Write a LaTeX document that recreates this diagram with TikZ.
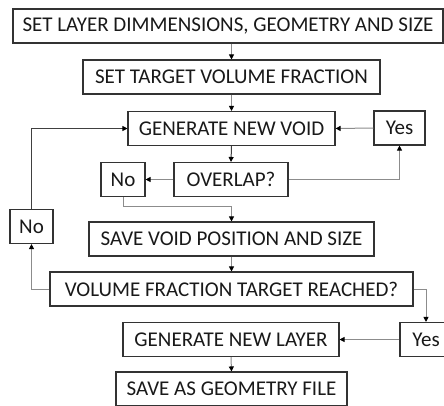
\documentclass[tikz,border=0pt]{standalone}
\usepackage{fontspec}
\setmainfont{Carlito}
\usetikzlibrary{arrows.meta}
\begin{document}
\begin{tikzpicture}[x=1pt,y=-1pt,
  box/.style={draw=black!80, line width=1.1pt, fill=white, inner sep=0pt,
    minimum height=34pt, text=black!90, font=\fontsize{21}{23}\selectfont},
  link/.style={draw=black!45, line width=1pt,
    -{Triangle[length=5pt,width=5pt,color=black]}},
  darklink/.style={link, draw=black!75}]
\useasboundingbox (0,0) rectangle (444,405);
\clip (0,0) rectangle (444,405);
% process boxes
\node[box, minimum width=430pt] (layer)  at (228,26)    {SET LAYER DIMMENSIONS, GEOMETRY AND SIZE};
\node[box, minimum width=297pt] (target) at (231.5,77)  {SET TARGET VOLUME FRACTION};
\node[box, minimum width=207pt] (void)   at (231.5,128.5) {GENERATE NEW VOID};
\node[box, minimum width=51pt]  (yesA)   at (399.5,128) {Yes};
\node[box, minimum width=114pt] (overlap) at (231,179.5) {OVERLAP?};
\node[box, minimum width=44pt]  (noA)    at (123,179.5) {No};
\node[box, minimum width=285pt] (save)   at (231.5,239) {SAVE VOID POSITION AND SIZE};
\node[box, minimum width=43pt]  (noB)    at (31.5,226.5) {No};
\node[box, minimum width=363pt] (reached) at (231.5,289) {VOLUME FRACTION TARGET REACHED?};
\node[box, minimum width=52pt]  (yesB)   at (426,339.5) {Yes};
\node[box, minimum width=216pt] (newlayer) at (231,339.5) {GENERATE NEW LAYER};
\node[box, minimum width=231pt] (geofile) at (231.5,389) {SAVE AS GEOMETRY FILE};
% bend point below the first "No"
\coordinate (bendA) at (123,206);
% connectors
\draw[link] (target.north |- layer.south) -- (target.north);
\draw[link] (target.south) -- (void.north);
\draw[darklink] (void.south) -- (overlap.north);
\draw[link] (yesA.west) -- (void.east);
\draw[link] (overlap.east) -| (yesA.south);
\draw[link] (overlap.west) -- (noA.east);
\draw[link] (noA.south) -- (bendA) -| (save.north);
\draw[link] (save.south) -- (reached.north);
\draw[link] (reached.west) -| (noB.south);
\draw[darklink] (noB.north) |- (void.west);
\draw[link] (reached.east) -| (yesB.north);
\draw[link] (yesB.west) -- (newlayer.east);
\draw[link] (newlayer.south) -- (geofile.north);
\end{tikzpicture}
\end{document}
